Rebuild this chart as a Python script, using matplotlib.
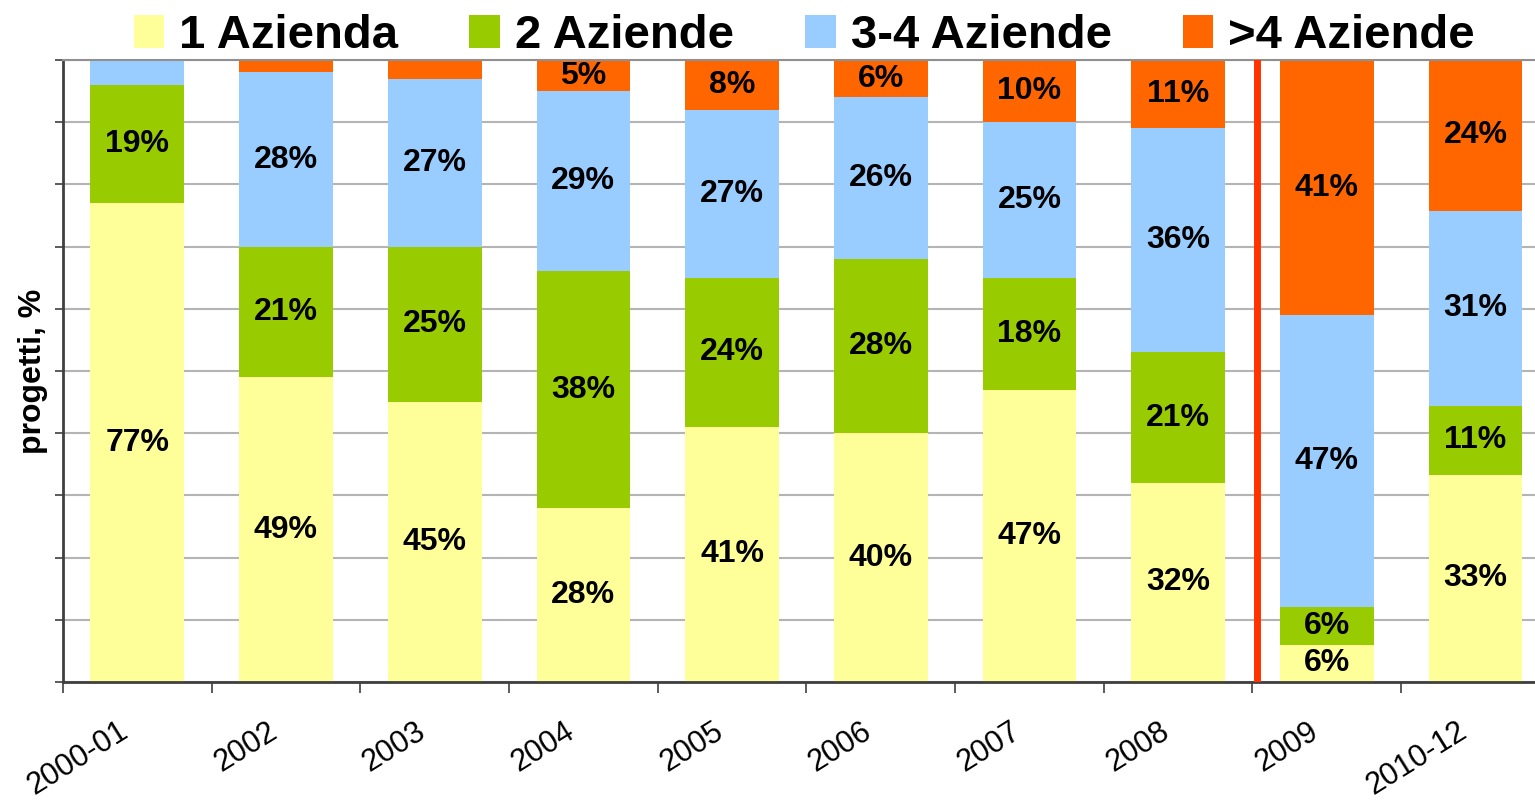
import matplotlib
matplotlib.use("Agg")
import matplotlib.pyplot as plt
import numpy as np

plt.rcParams["font.family"] = ["Liberation Sans", "DejaVu Sans"]

categories = ["2000-01", "2002", "2003", "2004", "2005", "2006", "2007", "2008", "2009", "2010-12"]
series_names = ["1 Azienda", "2 Aziende", "3-4 Aziende", ">4 Aziende"]
one_az = [77, 49, 45, 28, 41, 40, 47, 32, 6, 33]
two_az = [19, 21, 25, 38, 24, 28, 18, 21, 6, 11]
three_four_az = [4, 28, 27, 29, 27, 26, 25, 36, 47, 31]
more_az = [0, 2, 3, 5, 8, 6, 10, 11, 41, 24]

COLORS = ["#FFFF99", "#99CC00", "#99CCFF", "#FF6600"]

fig = plt.figure(figsize=(15.35, 8.0), dpi=100)
ax = fig.add_axes([0.041, 0.1475, 0.959, 0.7775])

x = np.arange(len(categories))
data = np.array([one_az, two_az, three_four_az, more_az], dtype=float)
totals = data.sum(axis=0)
bottom = np.zeros(len(categories))
handles = []
for vals, name, col in zip(data, series_names, COLORS):
    heights = vals / totals * 100  # 100% stacked
    h = ax.bar(x, heights, 0.63, bottom=bottom, color=col, label=name, zorder=2)
    handles.append(h)
    for xi, b, hh, v in zip(x, bottom, heights, vals):
        if v >= 5:
            ax.text(xi, b + hh / 2, f"{int(v)}%", ha="center", va="center",
                    fontsize=23, fontweight="bold", color="black", zorder=3)
    bottom += heights

ax.set_xlim(-0.5, 9.4)
ax.set_ylim(0, 100)
ax.set_yticks(np.arange(0, 101, 10))
ax.set_yticklabels([])
ax.yaxis.grid(True, color="#B4B4B4", lw=1.5, zorder=0)
ax.tick_params(axis="y", length=6, width=1.2, color="#404040")

ax.set_xticks(np.arange(-0.5, 9.5, 1))
ax.set_xticklabels([])
ax.tick_params(axis="x", length=8, width=1.2, color="#404040")
for xi, lab in zip(x, categories):
    ax.text(xi - 0.13, -5.5, lab, rotation=32, ha="right", va="top",
            rotation_mode="anchor", fontsize=22, clip_on=False)

ax.axvline(7.53, color="#FF3300", lw=5, zorder=4)

for s in ["left", "bottom"]:
    ax.spines[s].set_color("#404040")
    ax.spines[s].set_linewidth(2)
ax.spines["top"].set_color("#909090")
ax.spines["top"].set_linewidth(1.5)
ax.spines["right"].set_visible(False)

ax.set_ylabel("progetti, %", fontsize=23, fontweight="bold", labelpad=1)

fig.legend(handles, series_names, loc="center", bbox_to_anchor=(0.524, 0.955),
           ncol=4, frameon=False, prop={"size": 34, "weight": "bold"},
           handlelength=0.65, handleheight=0.7, handletextpad=0.32,
           columnspacing=1.5, borderpad=0.1)

fig.savefig("out.png", dpi=100)
